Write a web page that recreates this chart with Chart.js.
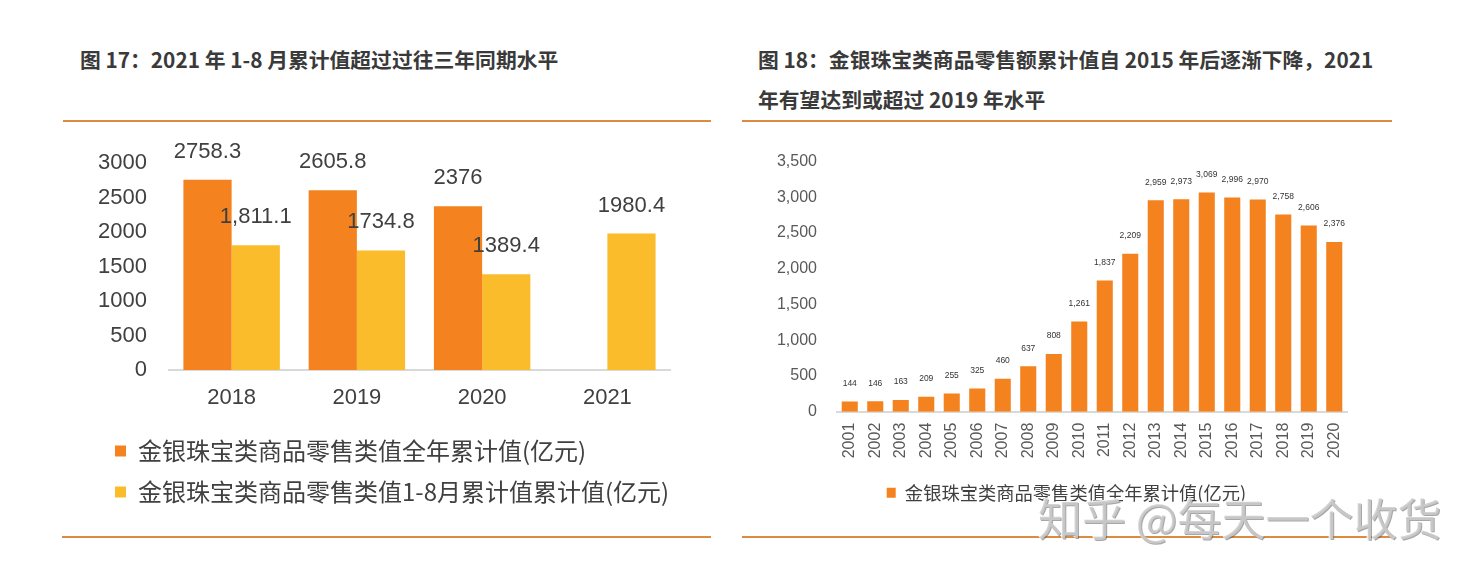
<!DOCTYPE html>
<html>
<head>
<meta charset="utf-8">
<script src="https://cdn.jsdelivr.net/npm/chart.js@4.4.1/dist/chart.umd.min.js"></script>
<style>
  html, body { margin: 0; padding: 0; background: #ffffff; }
  body { width: 1480px; height: 578px; position: relative; overflow: hidden; }
  .title { position: absolute; font-family: "Noto Sans CJK SC", sans-serif; font-weight: bold; font-size: 20.8px; line-height: 40px; color: #3a3a3a; white-space: nowrap; }
  .rule { position: absolute; height: 2px; background: #dc8b42; }
  .box { position: absolute; }
  .wm { position: absolute; left: 1038px; top: 487px; font-family: "Noto Sans CJK SC", sans-serif; font-size: 44px; line-height: 60px; color: rgba(205,205,205,0.85); text-shadow: 1px 1px 0 rgba(80,80,80,0.5), -1px -1px 0 rgba(255,255,255,0.9); white-space: nowrap; z-index: 5; }
</style>
</head>
<body>
<div class="title" style="left:80px; top:39px;">图 17：2021 年 1-8 月累计值超过过往三年同期水平</div>
<div class="title" style="left:758px; top:39px;">图 18：金银珠宝类商品零售额累计值自 2015 年后逐渐下降，2021<br>年有望达到或超过 2019 年水平</div>
<div class="rule" style="left:63px; top:120px; width:648px;"></div>
<div class="rule" style="left:742px; top:120px; width:650px;"></div>
<div class="rule" style="left:62px; top:536px; width:649px;"></div>
<div class="rule" style="left:742px; top:536px; width:651px;"></div>

<div class="box" style="left:62px; top:128px; width:650px; height:386px;"><canvas id="c1" width="650" height="386"></canvas></div>
<div class="box" style="left:742px; top:132px; width:650px; height:380px;"><canvas id="c2" width="650" height="380"></canvas></div>
<div class="wm">知乎 @每天一个收货</div>

<script>
// ---- Data: chart 1 ----
const leftYears = ['2018', '2019', '2020', '2021'];
const leftFullYear = [2758.3, 2605.8, 2376, null];
const leftJanAug = [1811.1, 1734.8, 1389.4, 1980.4];
const leftFullYearText = ['2758.3', '2605.8', '2376', ''];
const leftJanAugText = ['1,811.1', '1734.8', '1389.4', '1980.4'];
const leftSeriesNames = ['金银珠宝类商品零售类值全年累计值(亿元)', '金银珠宝类商品零售类值1-8月累计值累计值(亿元)'];
const leftTicks = [0, 500, 1000, 1500, 2000, 2500, 3000];

// ---- Data: chart 2 ----
const rightYears = ['2001','2002','2003','2004','2005','2006','2007','2008','2009','2010','2011','2012','2013','2014','2015','2016','2017','2018','2019','2020'];
const rightValues = [144, 146, 163, 209, 255, 325, 460, 637, 808, 1261, 1837, 2209, 2959, 2973, 3069, 2996, 2970, 2758, 2606, 2376];
const rightSeriesName = '金银珠宝类商品零售类值全年累计值(亿元)';
const rightTicks = [0, 500, 1000, 1500, 2000, 2500, 3000, 3500];

const ORANGE = '#f4821f';
const YELLOW = '#fbbc2c';
const AXIS = '#d9d9d9';
const LATIN = '"Liberation Sans", Arial, sans-serif';
const CJK = '"Noto Sans CJK SC", sans-serif';

const valueLabels = {
  id: 'valueLabels',
  afterDatasetsDraw(chart, args, opts) {
    const ctx = chart.ctx;
    ctx.save();
    ctx.font = opts.font;
    ctx.fillStyle = opts.color;
    ctx.textAlign = 'center';
    ctx.textBaseline = 'middle';
    chart.data.datasets.forEach((ds, i) => {
      const meta = chart.getDatasetMeta(i);
      meta.data.forEach((bar, j) => {
        const v = ds.data[j];
        if (v === null || v === undefined) return;
        const text = opts.texts ? opts.texts[i][j] : v.toLocaleString('en-US');
        ctx.fillText(text, bar.x, bar.y - opts.offset);
      });
    });
    ctx.restore();
  }
};

// nudges the library-drawn legend sideways
const legendShift = {
  id: 'legendShift',
  afterLayout(chart, args, opts) {
    const lg = chart.legend;
    if (lg && opts.dx) { lg.left += opts.dx; lg.right += opts.dx; }
  }
};

Chart.register(valueLabels, legendShift);

new Chart(document.getElementById('c1'), {
  type: 'bar',
  data: {
    labels: leftYears,
    datasets: [
      { label: leftSeriesNames[0], data: leftFullYear, backgroundColor: ORANGE, categoryPercentage: 0.77, barPercentage: 1.0 },
      { label: leftSeriesNames[1], data: leftJanAug, backgroundColor: YELLOW, categoryPercentage: 0.77, barPercentage: 1.0 }
    ]
  },
  options: {
    responsive: false,
    animation: false,
    layout: { padding: { left: 0, right: 42, top: 30, bottom: 0 } },
    scales: {
      x: {
        grid: { display: true, drawOnChartArea: false, drawTicks: false },
        border: { display: true, color: AXIS, width: 2 },
        ticks: { color: '#404040', font: { family: LATIN, size: 22 }, padding: 15 },
        afterFit(s) { s.height = 52; }
      },
      y: {
        min: 0, max: 3000,
        afterBuildTicks(s) { s.ticks = leftTicks.map(v => ({ value: v })); },
        grid: { display: false, drawTicks: false },
        border: { display: false },
        ticks: { color: '#404040', font: { family: LATIN, size: 22 }, padding: 22, callback: v => String(v) },
        afterFit(s) { s.width = 107; }
      }
    },
    plugins: {
      legend: {
        position: 'bottom',
        align: 'start',
        labels: { boxWidth: 11, boxHeight: 11, padding: 17, color: '#404040', font: { family: CJK, size: 24 } }
      },
      legendShift: { dx: 36 },
      tooltip: { enabled: false },
      valueLabels: { font: '22px ' + LATIN, color: '#404040', offset: 28, texts: [leftFullYearText, leftJanAugText] }
    }
  }
});

new Chart(document.getElementById('c2'), {
  type: 'bar',
  data: {
    labels: rightYears,
    datasets: [
      { label: rightSeriesName, data: rightValues, backgroundColor: ORANGE, categoryPercentage: 0.63, barPercentage: 1.0 }
    ]
  },
  options: {
    responsive: false,
    animation: false,
    layout: { padding: { left: 0, right: 45, top: 12, bottom: 0 } },
    scales: {
      x: {
        grid: { display: true, drawOnChartArea: false, drawTicks: false },
        border: { display: true, color: AXIS, width: 2 },
        ticks: { color: '#595959', font: { family: LATIN, size: 16 }, padding: 11, minRotation: 90, maxRotation: 90, autoSkip: false },
        afterFit(s) { s.height = 62; }
      },
      y: {
        min: 0, max: 3500,
        afterBuildTicks(s) { s.ticks = rightTicks.map(v => ({ value: v })); },
        grid: { display: false, drawTicks: false },
        border: { display: false },
        ticks: { color: '#595959', font: { family: LATIN, size: 16 }, padding: 20, callback: v => v.toLocaleString('en-US') },
        afterFit(s) { s.width = 95; }
      }
    },
    plugins: {
      legend: {
        position: 'bottom',
        align: 'center',
        labels: { boxWidth: 9, boxHeight: 10, padding: 10, color: '#404040', font: { family: CJK, size: 18.3 } }
      },
      legendShift: { dx: 22 },
      tooltip: { enabled: false },
      valueLabels: { font: '8.5px ' + LATIN, color: '#333333', offset: 18 }
    }
  }
});
</script>
</body>
</html>
